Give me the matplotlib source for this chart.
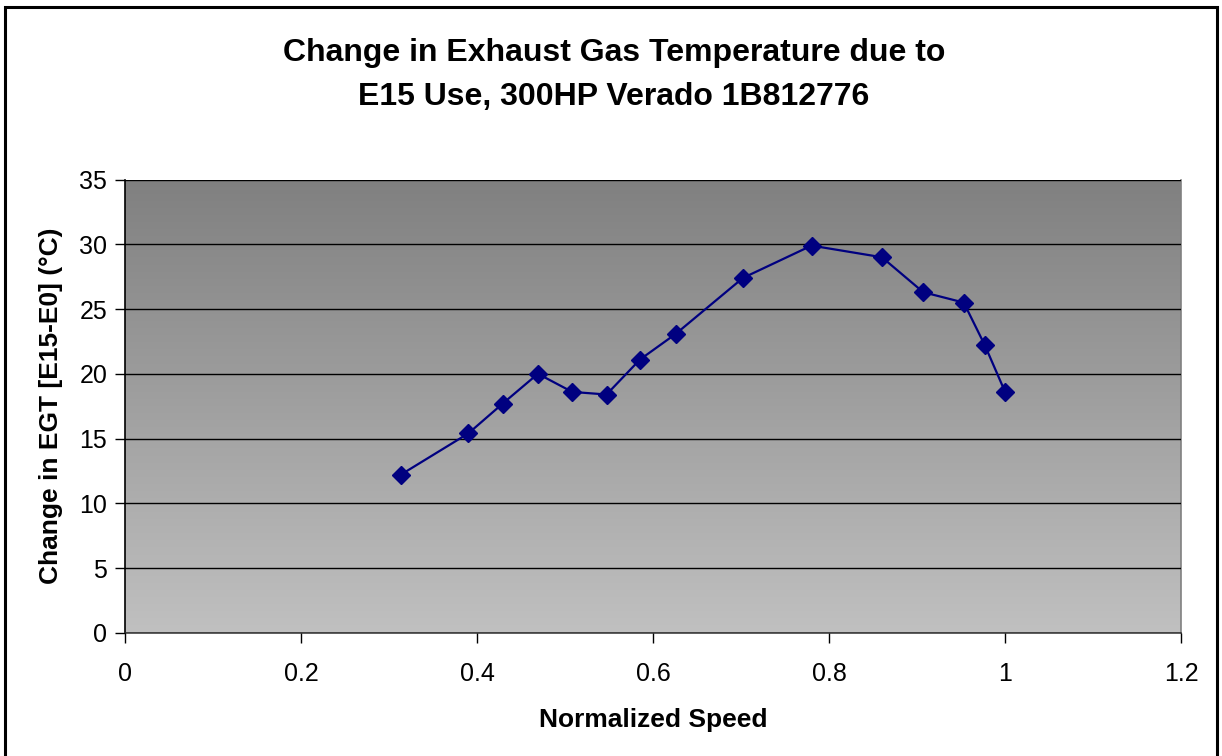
import matplotlib.pyplot as plt
import matplotlib.patches as patches
import numpy as np
from matplotlib import rcParams

# normalized speed vs. EGT delta, E15 minus E0
speed = [0.313, 0.390, 0.429, 0.469, 0.508, 0.547, 0.585, 0.626,
         0.702, 0.780, 0.860, 0.907, 0.953, 0.977, 1.000]
egt_delta = [12.2, 15.4, 17.7, 20.0, 18.6, 18.4, 21.1, 23.1,
             27.4, 29.9, 29.0, 26.3, 25.5, 22.2, 18.6]

x_ticks = [0, 0.2, 0.4, 0.6, 0.8, 1.0, 1.2]
x_tick_labels = ['0', '0.2', '0.4', '0.6', '0.8', '1', '1.2']
y_ticks = [0, 5, 10, 15, 20, 25, 30, 35]

rcParams['font.family'] = ['Liberation Sans', 'DejaVu Sans']

fig = plt.figure(figsize=(12.22, 7.56), dpi=100)
ax = fig.add_axes([0.1025, 0.163, 0.864, 0.5995])

# outer chart frame
fig.patches.append(patches.Rectangle((5 / 1222, -0.01), 1212 / 1222, 1 - 7 / 756 + 0.01,
                                     transform=fig.transFigure, fill=False,
                                     edgecolor='black', linewidth=2.2))

# plot area fill: dark grey at top fading to light grey
grad = np.linspace(0, 1, 256).reshape(-1, 1)
ax.imshow(grad, extent=[0, 1, 0, 1], transform=ax.transAxes, aspect='auto',
          cmap=plt.matplotlib.colors.LinearSegmentedColormap.from_list(
              'bg', ['#808080', '#c0c0c0']),
          origin='upper', zorder=0)

ax.set_xlim(0, 1.2)
ax.set_ylim(0, 35)
ax.set_yticks(y_ticks)
ax.set_xticks(x_ticks)
ax.set_xticklabels(x_tick_labels)
ax.grid(axis='y', color='black', linewidth=1.0, zorder=1)
ax.set_axisbelow(False)

ax.plot(speed, egt_delta, color='#000080', linewidth=1.6, marker='D',
        markersize=9, markerfacecolor='#000080', markeredgecolor='#000080', zorder=3)

ax.spines['top'].set_visible(False)
ax.spines['right'].set_color('#808080')
ax.spines['left'].set_color('black')
ax.spines['bottom'].set_color('#404040')
for s in ax.spines.values():
    s.set_linewidth(1.2)

ax.tick_params(axis='both', direction='out', length=7, width=1, labelsize=18)
ax.tick_params(axis='x', pad=14)
ax.tick_params(axis='y', pad=6)

ax.set_xlabel('Normalized Speed', fontsize=19, fontweight='bold', labelpad=16)
ax.set_ylabel('Change in EGT [E15-E0] (°C)', fontsize=19, fontweight='bold', labelpad=12)

fig.text(0.5025, 0.901, 'Change in Exhaust Gas Temperature due to\nE15 Use, 300HP Verado 1B812776',
         ha='center', va='center', fontsize=23, fontweight='bold', linespacing=1.6)

plt.savefig('out.png', dpi=100)
